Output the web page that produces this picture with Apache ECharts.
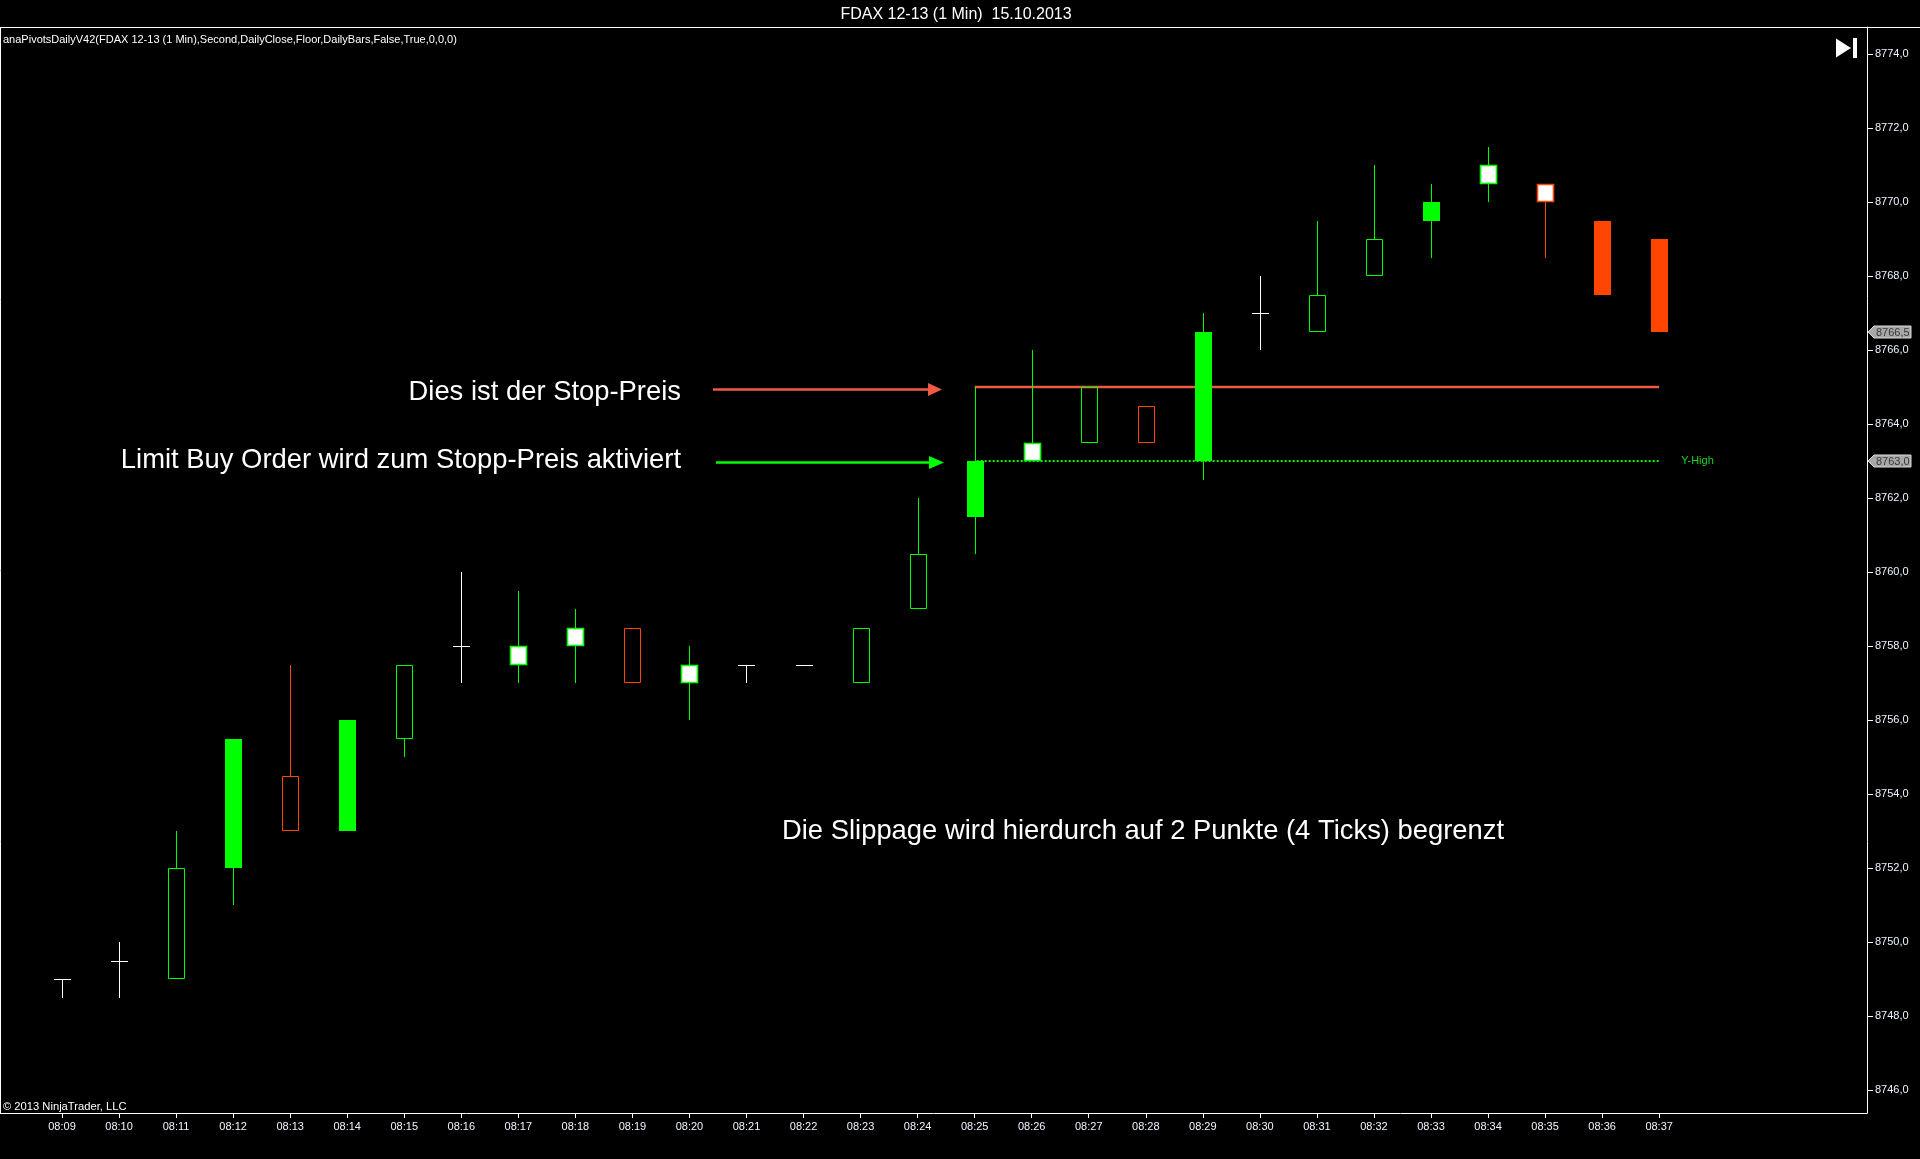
<!DOCTYPE html>
<html><head><meta charset="utf-8">
<script src="https://cdn.jsdelivr.net/npm/echarts@6/dist/echarts.min.js"></script>
<style>html,body{margin:0;padding:0;background:#000;overflow:hidden}#c{width:1920px;height:1159px}</style>
</head><body><div id="c"></div>
<script>
// ---- data ----
const times = ['08:09','08:10','08:11','08:12','08:13','08:14','08:15','08:16','08:17','08:18','08:19','08:20','08:21','08:22','08:23','08:24','08:25','08:26','08:27','08:28','08:29','08:30','08:31','08:32','08:33','08:34','08:35','08:36','08:37'];
const opens  = [8749,8749.5,8749,8752,8754.5,8753,8755.5,8758,8757.5,8758,8758.5,8757,8757.5,8757.5,8757,8759,8761.5,8763,8763.5,8764.5,8763,8767,8766.5,8768,8769.5,8770.5,8770.5,8769.5,8769];
const highs  = [8749,8750,8753,8755.5,8757.5,8756,8757.5,8760,8759.5,8759,8758.5,8758,8757.5,8757.5,8758.5,8762,8765,8766,8765,8764.5,8767,8768,8769.5,8771,8770.5,8771.5,8770.5,8769.5,8769];
const lows   = [8748.5,8748.5,8749,8751,8753,8753,8755,8757,8757,8757,8757,8756,8757,8757.5,8757,8759,8760.5,8763,8763.5,8763.5,8762.5,8766,8766.5,8768,8768.5,8770,8768.5,8767.5,8766.5];
const closes = [8749,8749.5,8752,8755.5,8753,8756,8757.5,8758,8758,8758.5,8757,8757.5,8757.5,8757.5,8758.5,8760.5,8763,8763.5,8765,8763.5,8766.5,8767,8767.5,8769,8770,8771,8770,8767.5,8766.5];
// body kind per bar: o = outline only, f = filled, w = white body
const bodyKind = ['o','o','o','f','o','f','o','o','w','w','o','w','o','o','o','o','f','w','o','o','f','o','o','o','f','w','w','f','f'];
const yTicks = [8746,8748,8750,8752,8754,8756,8758,8760,8762,8764,8766,8768,8770,8772,8774];
const stopPrice = 8765;
const yHigh = 8763;
const levelFrom = '08:25';
const levelTo = '08:37';
const title = 'FDAX 12-13 (1 Min)  15.10.2013';
const indicatorText = 'anaPivotsDailyV42(FDAX 12-13 (1 Min),Second,DailyClose,Floor,DailyBars,False,True,0,0,0)';
const copyrightText = '\u00a9 2013 NinjaTrader, LLC';
const note1 = 'Dies ist der Stop-Preis';
const note2 = 'Limit Buy Order wird zum Stopp-Preis aktiviert';
const note3 = 'Die Slippage wird hierdurch auf 2 Punkte (4 Ticks) begrenzt';

// ---- styles ----
const GREEN = '#00ff00', RED = '#ff4500', WHITE = '#ffffff', STOP = '#f05a44', YHC = '#1ed21e';
const FONT = '"Liberation Sans", Arial, sans-serif';
const fmt = v => v.toFixed(1).replace('.', ',');

const candleData = times.map((t, i) => [i, opens[i], highs[i], lows[i], closes[i]]);

function renderCandle(params, api) {
  const i = api.value(0), o = api.value(1), h = api.value(2), l = api.value(3), c = api.value(4);
  const kind = bodyKind[params.dataIndex];
  const cx = Math.round(api.coord([i, o])[0]) + 0.5;
  const Y = v => api.coord([i, v])[1];
  const yo = Y(o), yc = Y(c), yh = Y(h), yl = Y(l);
  const col = c > o ? GREEN : (c < o ? RED : WHITE);
  const hw = 8;
  const ch = [];
  const ln = (x1, y1, x2, y2, w) => ({type: 'line', shape: {x1, y1, x2, y2}, style: {stroke: col, lineWidth: w || 1}});
  if (o === c) {
    const yy = Math.round(yo) + 0.5;
    if (yh < yl) ch.push(ln(cx, Math.round(yh), cx, Math.round(yl)));
    ch.push(ln(cx - hw - 0.5, yy, cx + hw + 0.5, yy));
  } else {
    const top = Math.round(Math.min(yo, yc)), bot = Math.round(Math.max(yo, yc));
    if (Y(h) < top - 0.5) ch.push(ln(cx, Math.round(yh), cx, top));
    if (Y(l) > bot + 0.5) ch.push(ln(cx, bot, cx, Math.round(yl)));
    if (kind === 'f') {
      ch.push({type: 'rect', shape: {x: cx - hw - 0.5, y: top, width: 2 * hw + 1, height: bot - top}, style: {fill: col}});
    } else if (kind === 'w') {
      ch.push({type: 'rect', shape: {x: cx - hw, y: top + 0.5, width: 2 * hw, height: bot - top - 1}, style: {fill: WHITE, stroke: col, lineWidth: 1.6}});
    } else {
      ch.push({type: 'rect', shape: {x: cx - hw, y: top + 0.5, width: 2 * hw, height: bot - top - 1}, style: {fill: 'transparent', stroke: col, lineWidth: 1}});
    }
  }
  return {type: 'group', children: ch};
}

const iFrom = times.indexOf(levelFrom), iTo = times.indexOf(levelTo);
const levelData = [[iFrom, iTo, stopPrice], [iFrom, iTo, yHigh]];
function renderLevel(params, api) {
  const a = api.coord([api.value(0), api.value(2)]);
  const b = api.coord([api.value(1), api.value(2)]);
  if (params.dataIndex === 0) {
    return {type: 'line', shape: {x1: a[0], y1: a[1], x2: b[0], y2: b[1]}, style: {stroke: STOP, lineWidth: 2.4}};
  }
  return {type: 'group', children: [
    {type: 'line', shape: {x1: a[0] + 2, y1: a[1], x2: b[0], y2: b[1]}, style: {stroke: GREEN, lineWidth: 2, lineDash: [2, 2]}},
    {type: 'text', style: {text: 'Y-High', x: b[0] + 22, y: b[1], fill: YHC, font: '11px ' + FONT, textAlign: 'left', align: 'left', textVerticalAlign: 'middle', verticalAlign: 'middle'}}
  ]};
}

const tagData = [[closes[closes.length - 1]], [yHigh]];
function renderTag(params, api) {
  const v = api.value(0);
  const y = Math.round(api.coord([0, v])[1]);
  const x0 = params.coordSys.x + params.coordSys.width + 1;
  return {type: 'group', children: [
    {type: 'polygon', shape: {points: [[x0, y], [x0 + 6, y - 6], [x0 + 43, y - 6], [x0 + 43, y + 6], [x0 + 6, y + 6]]}, style: {fill: '#a8a8a8', stroke: '#d8d8d8', lineWidth: 1}},
    {type: 'text', style: {text: fmt(v), x: x0 + 8, y: y + 0.5, fill: '#3a3a3a', font: '11px ' + FONT, textAlign: 'left', align: 'left', textVerticalAlign: 'middle', verticalAlign: 'middle'}}
  ]};
}

const chart = echarts.init(document.getElementById('c'), null, {renderer: 'canvas'});
const txt = (text, x, y, size, align, extra) => Object.assign({
  type: 'text', x: 0, y: 0, silent: true,
  style: {text, x, y, fill: WHITE, font: size + 'px ' + FONT, textAlign: align, align: align, textVerticalAlign: 'middle', verticalAlign: 'middle'}
}, extra || {});

chart.setOption({
  backgroundColor: '#000',
  animation: false,
  grid: {left: 0, right: 53, top: 27, bottom: 46, containLabel: false},
  xAxis: {
    type: 'value', min: -1.087, max: 31.644,
    splitLine: {show: false},
    axisLine: {show: true, lineStyle: {color: WHITE, width: 1}},
    axisTick: {show: true, length: 5, lineStyle: {color: WHITE}, customValues: times.map((t, i) => i)},
    axisLabel: {show: true, margin: 8, color: '#eef4ff', fontSize: 11, fontFamily: FONT, customValues: times.map((t, i) => i), formatter: v => times[v]}
  },
  yAxis: {
    type: 'value', position: 'right', min: 8745.38, max: 8774.73, scale: true,
    splitLine: {show: false},
    axisLine: {show: true, onZero: false, lineStyle: {color: WHITE, width: 1}},
    axisTick: {show: true, length: 6, lineStyle: {color: WHITE}, customValues: yTicks},
    axisLabel: {show: true, margin: 8, padding: [4, 0, 0, 0], color: '#eef4ff', fontSize: 11, fontFamily: FONT, customValues: yTicks, formatter: v => fmt(v)}
  },
  series: [
    {type: 'custom', name: 'levels', renderItem: renderLevel, data: levelData, encode: {x: [0, 1], y: 2}, z: 2, clip: false},
    {type: 'custom', name: 'FDAX', renderItem: renderCandle, data: candleData, encode: {x: 0, y: [1, 2, 3, 4]}, z: 3},
    {type: 'custom', name: 'tags', renderItem: renderTag, data: tagData, encode: {y: 0}, z: 4, clip: false}
  ],
  graphic: [
    {type: 'line', silent: true, shape: {x1: 0, y1: 27.5, x2: 1920, y2: 27.5}, style: {stroke: WHITE, lineWidth: 1}},
    {type: 'line', silent: true, shape: {x1: 0.5, y1: 28, x2: 0.5, y2: 1113}, style: {stroke: WHITE, lineWidth: 1}},
    txt(title, 956, 15, 16, 'center'),
    txt(indicatorText, 3, 40, 11, 'left'),
    txt(copyrightText, 3, 1106.5, 11.2, 'left'),
    txt(note1, 681, 392, 27.4, 'right'),
    txt(note2, 681, 460, 27.4, 'right'),
    txt(note3, 782, 831, 27.4, 'left'),
    // arrows
    {type: 'line', silent: true, shape: {x1: 713, y1: 389.5, x2: 930, y2: 389.5}, style: {stroke: STOP, lineWidth: 2.5}},
    {type: 'polygon', silent: true, shape: {points: [[928, 383], [942, 389.5], [928, 396]]}, style: {fill: STOP}},
    {type: 'line', silent: true, shape: {x1: 716, y1: 462.5, x2: 932, y2: 462.5}, style: {stroke: GREEN, lineWidth: 2.5}},
    {type: 'polygon', silent: true, shape: {points: [[929, 456], [944, 462.5], [929, 469]]}, style: {fill: GREEN}},
    // go-to-end icon
    {type: 'polygon', silent: true, shape: {points: [[1836, 38.5], [1851, 48], [1836, 57.5]]}, style: {fill: WHITE}},
    {type: 'rect', silent: true, shape: {x: 1853, y: 38, width: 4, height: 20}, style: {fill: WHITE}}
  ]
});
</script>
</body></html>
